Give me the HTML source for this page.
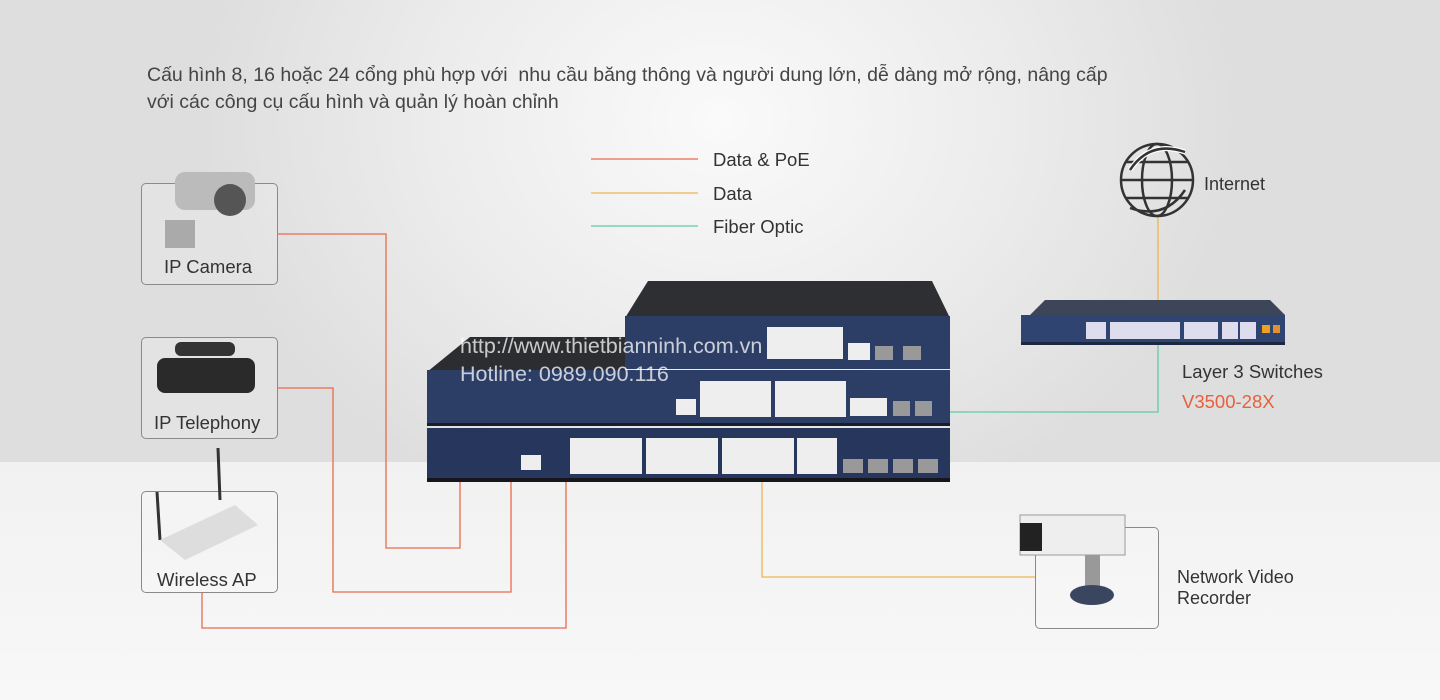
<!DOCTYPE html>
<html><head><meta charset="utf-8"><style>
*{margin:0;padding:0}
body{width:1440px;height:700px;overflow:hidden;position:relative;font-family:"Liberation Sans","Noto Sans CJK SC",sans-serif;
background:radial-gradient(ellipse 520px 420px at 720px 120px,#fafafa 0%,#ececec 55%,#dedede 100%);}
.floor{position:absolute;left:0;top:462px;width:1440px;height:238px;background:linear-gradient(#f1f1f1,#f8f8f8)}
.t{position:absolute;color:#333;white-space:nowrap}
.box{position:absolute;border:1px solid #8a8a8a;border-radius:5px;background:rgba(255,255,255,0.15)}
</style></head><body>
<div class="floor"></div>
<div class="t" style="left:147px;top:62px;font-size:19.5px;line-height:27px;color:#444">Cấu hình 8, 16 hoặc 24 cổng phù hợp với&nbsp; nhu cầu băng thông và người dung lớn, dễ dàng mở rộng, nâng cấp<br>với các công cụ cấu hình và quản lý hoàn chỉnh</div>

<div class="box" style="left:141px;top:183px;width:135px;height:100px"></div>
<div class="box" style="left:141px;top:337px;width:135px;height:100px"></div>
<div class="box" style="left:141px;top:491px;width:135px;height:100px"></div>
<div class="box" style="left:1035px;top:527px;width:122px;height:100px"></div>

<svg width="1440" height="700" style="position:absolute;left:0;top:0">
<g fill="none" stroke-width="1.3">
<line x1="591" y1="159" x2="698" y2="159" stroke="#ea6a4a"/>
<line x1="591" y1="193" x2="698" y2="193" stroke="#f0b550"/>
<line x1="591" y1="226" x2="698" y2="226" stroke="#60c8ad"/>
<polyline points="277,234 386,234 386,548 460,548 460,480" stroke="#ea6a4a"/>
<polyline points="277,388 333,388 333,592 511,592 511,480" stroke="#ea6a4a"/>
<polyline points="202,592 202,628 566,628 566,480" stroke="#ea6a4a"/>
<polyline points="762,480 762,577 1035,577" stroke="#f0b550"/>
<polyline points="950,412 1158,412 1158,345" stroke="#60c8ad"/>
<line x1="1158" y1="215" x2="1158" y2="302" stroke="#f0b550"/>
</g>
<g fill="none" stroke="#333" stroke-width="2.5">
<circle cx="1157" cy="180" r="36"/>
<ellipse cx="1157" cy="180" rx="15" ry="36"/>
<line x1="1121" y1="180" x2="1193" y2="180"/>
<line x1="1126" y1="162" x2="1188" y2="162"/><line x1="1126" y1="198" x2="1188" y2="198"/>
<path d="M1130 170 Q1150 140 1185 152" stroke-width="5" stroke="#fff"/>
<path d="M1130 170 Q1150 140 1185 152"/>
<path d="M1185 190 Q1165 220 1130 208"/>
</g>
<polygon points="1030,315 1045,300 1270,300 1285,315" fill="#3c4658"/>
<rect x="1021" y="315" width="264" height="30" fill="#2f4470"/>
<rect x="1021" y="342" width="264" height="3" fill="#1c2840"/>
<g fill="#dde">
<rect x="1086" y="322" width="20" height="17"/>
<rect x="1110" y="322" width="70" height="17"/><rect x="1184" y="322" width="34" height="17"/>
<rect x="1222" y="322" width="16" height="17"/><rect x="1240" y="322" width="16" height="17"/>
</g>
<rect x="1262" y="325" width="8" height="8" fill="#f0a020"/><rect x="1273" y="325" width="7" height="8" fill="#e09030"/>
<polygon points="625,318 648,281 932,281 950,318" fill="#2d2f33"/>
<rect x="625" y="316" width="325" height="53" fill="#2c3d66"/>
<rect x="767" y="327" width="76" height="32" fill="#eee"/>
<rect x="848" y="343" width="22" height="17" fill="#eee"/>
<rect x="875" y="346" width="18" height="14" fill="#999"/><rect x="903" y="346" width="18" height="14" fill="#999"/>
<polygon points="427,372 470,337 625,337 625,372" fill="#2c2d30"/>
<rect x="427" y="370" width="523" height="56" fill="#2c3d66"/>
<rect x="427" y="423" width="523" height="3" fill="#1a1d25"/>
<rect x="676" y="399" width="20" height="16" fill="#eee"/>
<rect x="700" y="381" width="71" height="36" fill="#eee"/>
<rect x="775" y="381" width="71" height="36" fill="#eee"/>
<rect x="850" y="398" width="37" height="18" fill="#eee"/>
<rect x="893" y="401" width="17" height="15" fill="#999"/><rect x="915" y="401" width="17" height="15" fill="#999"/>
<rect x="427" y="428" width="523" height="54" fill="#26365c"/>
<rect x="427" y="478" width="523" height="4" fill="#15171c"/>
<rect x="521" y="455" width="20" height="15" fill="#eee"/>
<rect x="570" y="438" width="72" height="36" fill="#eee"/>
<rect x="646" y="438" width="72" height="36" fill="#eee"/>
<rect x="722" y="438" width="72" height="36" fill="#eee"/>
<rect x="797" y="438" width="40" height="36" fill="#eee"/>
<rect x="843" y="459" width="20" height="14" fill="#999"/><rect x="868" y="459" width="20" height="14" fill="#999"/>
<rect x="893" y="459" width="20" height="14" fill="#999"/><rect x="918" y="459" width="20" height="14" fill="#999"/>
<rect x="175" y="172" width="80" height="38" rx="10" fill="#bbb"/><circle cx="230" cy="200" r="16" fill="#555"/>
<rect x="165" y="220" width="30" height="28" fill="#aaa"/>
<rect x="157" y="358" width="98" height="35" rx="8" fill="#2a2a2a"/><rect x="175" y="342" width="60" height="14" rx="6" fill="#333"/>
<line x1="157" y1="492" x2="160" y2="540" stroke="#333" stroke-width="3"/><line x1="218" y1="448" x2="220" y2="500" stroke="#333" stroke-width="3"/>
<polygon points="160,540 235,505 258,525 185,560" fill="#ddd"/>
<rect x="1020" y="515" width="105" height="40" fill="#eee" stroke="#999"/><rect x="1020" y="523" width="22" height="28" fill="#222"/>
<rect x="1085" y="555" width="15" height="35" fill="#999"/><ellipse cx="1092" cy="595" rx="22" ry="10" fill="#3a4660"/>
</svg>

<div class="t" style="left:713px;top:149px;font-size:18.5px">Data &amp; PoE</div>
<div class="t" style="left:713px;top:183px;font-size:18.5px">Data</div>
<div class="t" style="left:713px;top:216px;font-size:18.5px">Fiber Optic</div>
<div class="t" style="left:1204px;top:174px;font-size:18px">Internet</div>
<div class="t" style="left:164px;top:256px;font-size:18.5px">IP Camera</div>
<div class="t" style="left:154px;top:412px;font-size:18.5px">IP Telephony</div>
<div class="t" style="left:157px;top:569px;font-size:18.5px">Wireless AP</div>
<div class="t" style="left:1182px;top:361px;font-size:18.5px">Layer 3 Switches</div>
<div class="t" style="left:1182px;top:391px;font-size:18.5px;color:#e8603c">V3500-28X</div>
<div class="t" style="left:1177px;top:567px;font-size:18px;line-height:21px">Network Video<br>Recorder</div>
<div class="t" style="left:460px;top:334px;font-size:21.5px;color:rgba(255,255,255,0.75)">http://www.thietbianninh.com.vn</div>
<div class="t" style="left:460px;top:362px;font-size:21.5px;color:rgba(255,255,255,0.75)">Hotline: 0989.090.116</div>
</body></html>
